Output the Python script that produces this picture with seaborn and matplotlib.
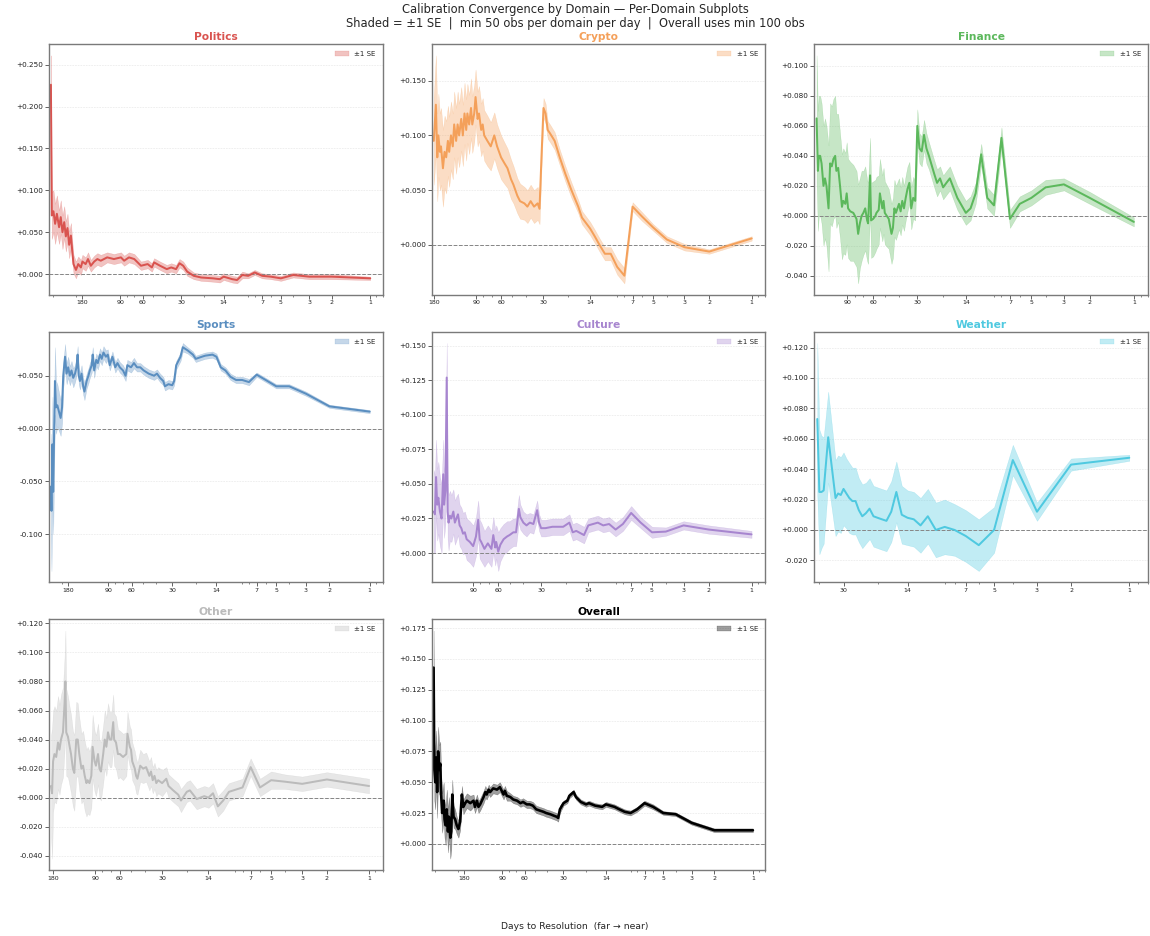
import matplotlib
matplotlib.use("Agg")
import numpy as np
import pandas as pd
import matplotlib.pyplot as plt
import matplotlib.ticker as mticker
import seaborn as sns

# ---- calibration gap per day-to-resolution (mean and standard error) ----
politics_days = [314, 309, 300, 291, 282, 271, 263, 255, 247, 240, 233, 226, 219, 213, 209, 200, 192, 183, 178, 168,
                 161, 153, 144, 136, 128, 114, 101, 89, 84, 77, 70, 62, 55, 51, 49, 44, 39, 36, 33, 31,
                 29, 27, 24, 21, 17, 15, 14, 12, 11, 10, 9, 8, 7, 6, 5, 4, 3, 2, 1]
politics_mean = [0.226, 0.070, 0.075, 0.060, 0.072, 0.056, 0.068, 0.050, 0.062, 0.045, 0.055, 0.035, 0.046, 0.025, 0.012,
                 0.005, 0.012, 0.008, 0.015, 0.012, 0.018, 0.010, 0.015, 0.018, 0.016, 0.020, 0.018, 0.020, 0.016, 0.020,
                 0.018, 0.010, 0.012, 0.008, 0.014, 0.010, 0.006, 0.008, 0.006, 0.013, 0.010, 0.003, -0.002, -0.004,
                 -0.005, -0.006, -0.003, -0.006, -0.007, -0.001, -0.002, 0.002, -0.002, -0.003, -0.005, -0.001, -0.003,
                 -0.003, -0.005]
politics_se = [0.035, 0.028, 0.025, 0.024, 0.022, 0.020, 0.020, 0.020, 0.019, 0.018, 0.017, 0.016, 0.015, 0.012, 0.011,
               0.010, 0.009, 0.009, 0.008, 0.008, 0.008, 0.007, 0.007, 0.007, 0.007, 0.006, 0.006, 0.006, 0.006, 0.006,
               0.006, 0.005, 0.005, 0.005, 0.005, 0.005, 0.005, 0.005, 0.005, 0.005, 0.005, 0.005, 0.004, 0.004,
               0.004, 0.004, 0.004, 0.004, 0.004, 0.004, 0.003, 0.003, 0.003, 0.003, 0.003, 0.003, 0.003, 0.003, 0.002]

crypto_days = [180, 174, 170, 167, 163, 160, 155, 151, 147, 143, 140, 136, 132, 129, 125, 122, 119, 115, 112, 109,
               106, 104, 101, 98, 96, 93, 91, 88, 86, 83, 81, 79, 75, 71, 67, 64, 60, 57, 54, 51,
               49, 46, 44, 41, 39, 37, 35, 33, 32, 31, 30, 29, 28, 27, 25, 23, 21, 19, 17, 16,
               14, 13, 12, 11, 10, 9, 8, 7, 6, 5, 4, 3, 2, 1]
crypto_mean = [0.095, 0.128, 0.080, 0.100, 0.085, 0.090, 0.070, 0.085, 0.080, 0.095, 0.085, 0.100, 0.090, 0.110, 0.095,
               0.110, 0.100, 0.115, 0.100, 0.120, 0.105, 0.120, 0.110, 0.125, 0.110, 0.120, 0.135, 0.115, 0.120, 0.105,
               0.110, 0.100, 0.095, 0.090, 0.100, 0.090, 0.080, 0.075, 0.070, 0.060, 0.055, 0.045, 0.040, 0.038, 0.035,
               0.040, 0.035, 0.038, 0.033, 0.080, 0.125, 0.120, 0.105, 0.102, 0.095, 0.080, 0.065, 0.050, 0.035, 0.025,
               0.015, 0.008, 0.000, -0.008, -0.008, -0.020, -0.028, 0.035, 0.026, 0.016, 0.005, -0.002, -0.006, 0.006]
crypto_se = [0.040, 0.045, 0.040, 0.038, 0.035, 0.035, 0.035, 0.033, 0.033, 0.032, 0.032, 0.031, 0.030, 0.030, 0.030,
             0.030, 0.029, 0.029, 0.028, 0.028, 0.028, 0.027, 0.027, 0.027, 0.026, 0.026, 0.025, 0.025, 0.025, 0.024,
             0.024, 0.023, 0.023, 0.022, 0.021, 0.020, 0.020, 0.019, 0.018, 0.018, 0.017, 0.016, 0.016, 0.015, 0.015,
             0.015, 0.015, 0.015, 0.014, 0.010, 0.009, 0.009, 0.008, 0.008, 0.008, 0.007, 0.007, 0.007, 0.006, 0.006,
             0.006, 0.006, 0.006, 0.006, 0.006, 0.007, 0.007, 0.004, 0.004, 0.003, 0.003, 0.003, 0.002, 0.002]

finance_days = [146, 143, 141, 138, 135, 131, 128, 125, 121, 118, 115, 112, 109, 107, 104, 101, 98, 96, 93, 91,
                89, 86, 82, 78, 76, 74, 72, 70, 68, 66, 65, 63, 62, 60, 58, 57, 55, 54, 52, 51,
                50, 47, 45, 44, 43, 42, 40, 39, 38, 37, 36, 35, 34, 33, 32, 31, 30, 29, 28, 27,
                26, 25, 23, 22, 21, 20, 19, 18, 16, 14, 13, 12, 11, 10, 9, 8, 7, 6, 5, 4, 3, 2, 1]
finance_mean = [0.065, 0.030, 0.040, 0.040, 0.035, 0.020, 0.025, 0.020, 0.005, 0.035, 0.033, 0.038, 0.040, 0.030, 0.032,
                0.020, 0.006, 0.010, 0.008, 0.015, 0.005, 0.003, 0.002, -0.002, -0.012, -0.005, 0.000, 0.002, 0.005,
                -0.003, -0.005, 0.027, -0.003, -0.002, 0.000, 0.002, 0.004, 0.015, 0.005, 0.010, 0.002, -0.002, -0.012,
                -0.008, 0.005, 0.002, 0.008, 0.003, 0.010, 0.005, 0.012, 0.018, 0.022, 0.005, 0.012, 0.010, 0.060,
                0.045, 0.043, 0.054, 0.045, 0.040, 0.028, 0.022, 0.025, 0.019, 0.022, 0.025, 0.012, 0.002, 0.005,
                0.015, 0.041, 0.012, 0.007, 0.052, -0.002, 0.008, 0.012, 0.019, 0.021, 0.012, -0.004]
finance_se = [0.042, 0.040, 0.040, 0.040, 0.040, 0.040, 0.040, 0.040, 0.042, 0.040, 0.040, 0.040, 0.040, 0.038, 0.036,
              0.035, 0.035, 0.035, 0.034, 0.034, 0.033, 0.033, 0.032, 0.032, 0.033, 0.030, 0.030, 0.028, 0.028, 0.027,
              0.027, 0.025, 0.025, 0.025, 0.024, 0.024, 0.023, 0.023, 0.022, 0.022, 0.021, 0.020, 0.020, 0.020, 0.019,
              0.018, 0.017, 0.016, 0.016, 0.015, 0.015, 0.015, 0.014, 0.014, 0.014, 0.013, 0.011, 0.010, 0.010, 0.010,
              0.010, 0.009, 0.009, 0.009, 0.008, 0.008, 0.008, 0.008, 0.008, 0.008, 0.008, 0.007, 0.007, 0.007, 0.007,
              0.007, 0.006, 0.005, 0.005, 0.005, 0.004, 0.004, 0.003]

sports_days = [242, 240, 236, 233, 226, 222, 217, 210, 205, 200, 196, 190, 185, 180, 175, 170, 165, 160, 156, 153,
               150, 147, 143, 139, 136, 131, 127, 124, 120, 118, 115, 111, 108, 104, 101, 98, 94, 91, 88, 84,
               80, 77, 74, 70, 67, 65, 61, 58, 55, 52, 49, 45, 41, 39, 37, 35, 34, 32, 30, 29,
               28, 26, 25, 23, 21, 20, 18, 17, 15, 14, 13, 12, 11, 10, 9, 8, 7, 6, 5, 4, 3, 2, 1]
sports_mean = [-0.055, -0.078, -0.015, -0.060, 0.045, 0.020, 0.022, 0.015, 0.010, 0.020, 0.050, 0.068, 0.052, 0.058,
               0.050, 0.055, 0.048, 0.052, 0.058, 0.070, 0.050, 0.045, 0.052, 0.040, 0.035, 0.045, 0.050, 0.055, 0.060,
               0.070, 0.055, 0.065, 0.062, 0.070, 0.066, 0.072, 0.068, 0.070, 0.060, 0.068, 0.058, 0.062, 0.058, 0.055,
               0.050, 0.060, 0.058, 0.062, 0.058, 0.058, 0.055, 0.052, 0.050, 0.052, 0.048, 0.045, 0.040, 0.042, 0.041,
               0.045, 0.060, 0.068, 0.077, 0.074, 0.070, 0.066, 0.068, 0.069, 0.070, 0.068, 0.058, 0.055, 0.049, 0.046,
               0.046, 0.044, 0.051, 0.046, 0.040, 0.040, 0.033, 0.021, 0.016]
sports_se = [0.050, 0.057, 0.045, 0.040, 0.032, 0.025, 0.020, 0.018, 0.017, 0.015, 0.012, 0.012, 0.010, 0.010, 0.009,
             0.009, 0.009, 0.008, 0.008, 0.008, 0.008, 0.008, 0.008, 0.008, 0.008, 0.007, 0.007, 0.007, 0.007, 0.007,
             0.007, 0.006, 0.006, 0.006, 0.006, 0.006, 0.006, 0.005, 0.005, 0.005, 0.005, 0.005, 0.005, 0.005, 0.005,
             0.005, 0.005, 0.005, 0.004, 0.004, 0.004, 0.004, 0.004, 0.004, 0.004, 0.004, 0.004, 0.004, 0.004, 0.004,
             0.004, 0.004, 0.004, 0.003, 0.003, 0.003, 0.003, 0.003, 0.003, 0.003, 0.003, 0.003, 0.003, 0.003, 0.003,
             0.003, 0.002, 0.002, 0.002, 0.002, 0.002, 0.0015, 0.0015]

culture_days = [170, 167, 164, 161, 158, 154, 150, 146, 144, 141, 138, 136, 134, 131, 128, 124, 121, 118, 115, 112,
                109, 106, 103, 100, 95, 90, 86, 83, 81, 79, 75, 71, 67, 65, 63, 62, 60, 58, 55, 52,
                50, 47, 45, 43, 42, 40, 38, 36, 34, 32, 31, 30, 28, 25, 21, 19, 18, 17, 15, 14,
                12, 11, 10, 9, 8, 7, 6, 5, 4, 3, 2, 1]
culture_mean = [0.030, 0.028, 0.055, 0.035, 0.040, 0.030, 0.025, 0.057, 0.035, 0.045, 0.127, 0.030, 0.022, 0.027, 0.025,
                0.030, 0.022, 0.025, 0.028, 0.020, 0.018, 0.014, 0.015, 0.010, 0.008, 0.005, 0.012, 0.024, 0.010, 0.008,
                0.003, 0.007, 0.003, 0.013, 0.004, 0.008, 0.001, 0.006, 0.010, 0.012, 0.013, 0.015, 0.015, 0.032, 0.026,
                0.022, 0.020, 0.022, 0.021, 0.031, 0.022, 0.018, 0.018, 0.019, 0.019, 0.022, 0.015, 0.016, 0.013, 0.020,
                0.022, 0.020, 0.021, 0.017, 0.021, 0.029, 0.022, 0.015, 0.0155, 0.020, 0.017, 0.0135]
culture_se = [0.030, 0.028, 0.027, 0.026, 0.026, 0.025, 0.025, 0.025, 0.024, 0.024, 0.025, 0.020, 0.020, 0.018, 0.017,
              0.016, 0.016, 0.016, 0.015, 0.015, 0.015, 0.015, 0.015, 0.015, 0.015, 0.015, 0.014, 0.014, 0.014, 0.014,
              0.013, 0.013, 0.013, 0.013, 0.013, 0.012, 0.014, 0.012, 0.011, 0.011, 0.010, 0.010, 0.010, 0.010, 0.009,
              0.008, 0.008, 0.007, 0.007, 0.007, 0.006, 0.006, 0.006, 0.006, 0.006, 0.006, 0.006, 0.006, 0.006, 0.005,
              0.005, 0.005, 0.005, 0.005, 0.005, 0.005, 0.004, 0.004, 0.003, 0.003, 0.003, 0.0025]

weather_days = [41, 40, 39, 38, 36, 33, 32, 31, 30, 29, 28, 27, 26, 25, 24, 23, 22, 21, 20, 19,
                18, 17, 16, 15, 14, 13, 12, 11, 10, 9, 8, 7, 6, 5, 4, 3, 2, 1]
weather_mean = [0.073, 0.025, 0.025, 0.026, 0.061, 0.021, 0.024, 0.023, 0.027, 0.024, 0.021, 0.019, 0.019, 0.013, 0.009,
                0.011, 0.014, 0.009, 0.008, 0.007, 0.006, 0.012, 0.025, 0.010, 0.008, 0.007, 0.003, 0.009, 0.000, 0.002,
                0.000, -0.004, -0.010, 0.000, 0.046, 0.012, 0.043, 0.0475]
weather_se = [0.050, 0.041, 0.037, 0.035, 0.030, 0.025, 0.025, 0.025, 0.024, 0.023, 0.023, 0.022, 0.022, 0.021, 0.021,
              0.020, 0.020, 0.020, 0.020, 0.020, 0.020, 0.020, 0.020, 0.019, 0.018, 0.018, 0.018, 0.018, 0.018, 0.018,
              0.017, 0.017, 0.017, 0.015, 0.010, 0.006, 0.004, 0.002]

other_days = [186, 183, 180, 176, 171, 166, 162, 158, 153, 149, 147, 145, 141, 137, 134, 130, 127, 123, 120, 117,
              113, 110, 107, 104, 102, 99, 96, 94, 91, 89, 86, 84, 82, 79, 77, 75, 73, 71, 69, 67,
              66, 64, 62, 60, 57, 54, 53, 51, 50, 49, 47, 46, 45, 43, 41, 39, 37, 36, 35, 34,
              33, 32, 31, 30, 28, 27, 25, 23, 22, 20, 19, 17, 16, 15, 14, 13, 12, 11, 10, 8,
              7, 6, 5, 4, 3, 2, 1]
other_mean = [0.008, 0.003, 0.025, 0.030, 0.028, 0.038, 0.033, 0.040, 0.045, 0.065, 0.080, 0.045, 0.042, 0.035, 0.030,
              0.020, 0.017, 0.040, 0.040, 0.030, 0.020, 0.022, 0.015, 0.010, 0.012, 0.010, 0.015, 0.035, 0.025, 0.022,
              0.030, 0.020, 0.018, 0.030, 0.040, 0.035, 0.045, 0.040, 0.040, 0.052, 0.040, 0.038, 0.030, 0.030, 0.028,
              0.030, 0.044, 0.035, 0.033, 0.025, 0.020, 0.015, 0.013, 0.022, 0.020, 0.021, 0.015, 0.018, 0.012, 0.015,
              0.010, 0.012, 0.011, 0.010, 0.013, 0.008, 0.005, 0.002, -0.002, 0.004, 0.005, -0.001, 0.000, 0.001,
              0.000, 0.003, -0.006, -0.002, 0.004, 0.007, 0.021, 0.007, 0.012, 0.011, 0.0095, 0.0125, 0.008]
other_se = [0.035, 0.045, 0.035, 0.033, 0.032, 0.032, 0.031, 0.031, 0.031, 0.032, 0.035, 0.030, 0.028, 0.027, 0.027,
            0.026, 0.026, 0.026, 0.025, 0.025, 0.024, 0.024, 0.024, 0.023, 0.023, 0.022, 0.022, 0.022, 0.021, 0.021,
            0.021, 0.020, 0.020, 0.020, 0.020, 0.020, 0.020, 0.019, 0.019, 0.019, 0.018, 0.018, 0.017, 0.016, 0.016,
            0.015, 0.015, 0.014, 0.014, 0.013, 0.012, 0.012, 0.011, 0.011, 0.010, 0.010, 0.010, 0.010, 0.009, 0.009,
            0.009, 0.009, 0.009, 0.009, 0.008, 0.008, 0.008, 0.008, 0.008, 0.007, 0.007, 0.007, 0.007, 0.007, 0.007,
            0.007, 0.007, 0.007, 0.006, 0.006, 0.006, 0.006, 0.006, 0.005, 0.005, 0.005, 0.005]

overall_days = [309, 305, 300, 295, 290, 285, 279, 274, 270, 265, 258, 254, 249, 244, 239, 235, 229, 225, 221, 216,
                210, 204, 198, 192, 186, 181, 175, 170, 160, 151, 147, 142, 138, 134, 126, 122, 119, 115, 112, 106,
                99, 94, 88, 86, 83, 78, 74, 69, 65, 62, 58, 55, 52, 49, 46, 43, 41, 38, 36, 34,
                33, 32, 30, 28, 27, 25, 24, 22, 20, 19, 17, 15, 14, 12, 11, 10, 9, 8, 7, 6,
                5, 4, 3, 2, 1]
overall_mean = [0.143, 0.060, 0.050, 0.070, 0.042, 0.075, 0.060, 0.065, 0.040, 0.025, 0.035, 0.020, 0.015, 0.028, 0.010,
                0.022, 0.005, 0.010, 0.040, 0.022, 0.020, 0.015, 0.012, 0.018, 0.040, 0.030, 0.033, 0.035, 0.033, 0.035,
                0.030, 0.035, 0.030, 0.032, 0.038, 0.042, 0.040, 0.044, 0.042, 0.045, 0.044, 0.046, 0.040, 0.043, 0.039,
                0.038, 0.036, 0.035, 0.033, 0.034, 0.032, 0.032, 0.031, 0.028, 0.027, 0.026, 0.025, 0.024, 0.023, 0.022,
                0.021, 0.028, 0.033, 0.035, 0.039, 0.042, 0.038, 0.034, 0.032, 0.033, 0.031, 0.030, 0.032, 0.030, 0.028,
                0.026, 0.025, 0.028, 0.033, 0.030, 0.025, 0.024, 0.017, 0.011, 0.011]
overall_se = [0.030, 0.025, 0.022, 0.022, 0.021, 0.020, 0.020, 0.018, 0.017, 0.016, 0.015, 0.015, 0.016, 0.016, 0.017,
              0.016, 0.017, 0.015, 0.012, 0.009, 0.008, 0.007, 0.007, 0.007, 0.007, 0.006, 0.006, 0.006, 0.006, 0.005,
              0.005, 0.005, 0.005, 0.005, 0.005, 0.005, 0.004, 0.004, 0.004, 0.004, 0.004, 0.004, 0.004, 0.004, 0.004,
              0.003, 0.003, 0.003, 0.003, 0.003, 0.003, 0.003, 0.003, 0.003, 0.003, 0.003, 0.003, 0.003, 0.003, 0.003,
              0.003, 0.003, 0.002, 0.002, 0.002, 0.002, 0.002, 0.002, 0.002, 0.002, 0.002, 0.002, 0.002, 0.002, 0.002,
              0.002, 0.002, 0.002, 0.002, 0.002, 0.0015, 0.0015, 0.0015, 0.0015, 0.0015]

domain_names = ["Politics", "Crypto", "Finance", "Sports", "Culture", "Weather", "Other", "Overall"]
domain_colors = ["#d9534f", "#f4a05a", "#5cb85c", "#5a8ec0", "#a785cf", "#4fc9e0", "#bbbbbb", "#000000"]
day_ticks = [180, 90, 60, 30, 14, 7, 5, 3, 2, 1]

series = {
    "Politics": (politics_days, politics_mean, politics_se),
    "Crypto": (crypto_days, crypto_mean, crypto_se),
    "Finance": (finance_days, finance_mean, finance_se),
    "Sports": (sports_days, sports_mean, sports_se),
    "Culture": (culture_days, culture_mean, culture_se),
    "Weather": (weather_days, weather_mean, weather_se),
    "Other": (other_days, other_mean, other_se),
    "Overall": (overall_days, overall_mean, overall_se),
}

sns.set_theme(style="ticks")
plt.rcParams["font.family"] = ["DejaVu Sans"]
plt.rcParams["axes.edgecolor"] = "#7a7a7a"
plt.rcParams["axes.linewidth"] = 1.4
plt.rcParams["xtick.color"] = "#555555"
plt.rcParams["ytick.color"] = "#555555"
plt.rcParams["xtick.labelcolor"] = "#222222"
plt.rcParams["ytick.labelcolor"] = "#222222"

fig, axes = plt.subplots(3, 3, figsize=(1150 / 72, 936 / 72), dpi=72)
fig.subplots_adjust(left=0.0426, right=0.9983, top=0.953, bottom=0.0705, wspace=0.147, hspace=0.147)

for ax, name, color in zip(axes.flat, domain_names, domain_colors):
    days, mean, se = series[name]
    df = pd.DataFrame({"days": days, "mean": mean, "se": se})
    df["lo"] = df["mean"] - df["se"]
    df["hi"] = df["mean"] + df["se"]
    df = df.sort_values("days")

    is_overall = name == "Overall"
    ax.fill_between(df["days"], df["lo"], df["hi"], color=color,
                    alpha=0.38 if is_overall else 0.35, linewidth=0.4, label="±1 SE")
    sns.lineplot(data=df, x="days", y="mean", ax=ax, color=color,
                 linewidth=2.6 if is_overall else 2.0, errorbar=None, legend=False)
    ax.axhline(0, color="#888888", ls="--", lw=1.0, zorder=1)

    ax.set_xscale("log")
    ax.set_xlim(max(days) * 1.035, 0.8)
    ax.xaxis.set_major_locator(mticker.FixedLocator(day_ticks))
    ax.xaxis.set_major_formatter(mticker.FixedFormatter([str(t) for t in day_ticks]))
    ax.xaxis.set_minor_locator(mticker.LogLocator(base=10, subs=np.arange(2, 10)))
    ax.xaxis.set_minor_formatter(mticker.NullFormatter())
    ax.yaxis.set_major_formatter(mticker.FuncFormatter(lambda v, _: f"{v:+.3f}"))

    ax.tick_params(axis="x", which="major", labelsize=6.3, length=3.5, width=0.9, pad=2)
    ax.tick_params(axis="x", which="minor", length=2, width=0.7)
    ax.tick_params(axis="y", labelsize=7.2, length=4, width=0.9, pad=2)
    ax.grid(axis="y", ls=":", lw=0.6, color="#d4d4d4")
    ax.set_axisbelow(True)
    ax.set_xlabel("")
    ax.set_ylabel("")
    ax.set_title(name, color=color, fontsize=10.6, fontweight="bold", pad=4)
    ax.legend(loc="upper right", fontsize=7, frameon=False, handlelength=2.0, borderaxespad=0.6)

axes[2, 2].axis("off")

fig.suptitle("Calibration Convergence by Domain — Per-Domain Subplots\n"
             "Shaded = ±1 SE  |  min 50 obs per domain per day  |  Overall uses min 100 obs",
             fontsize=11.5, y=0.9965, va="top", linespacing=1.1)
fig.supxlabel("Days to Resolution  (far → near)", fontsize=9.3, y=0.0099, va="center")

fig.savefig("out.png", dpi=72)
